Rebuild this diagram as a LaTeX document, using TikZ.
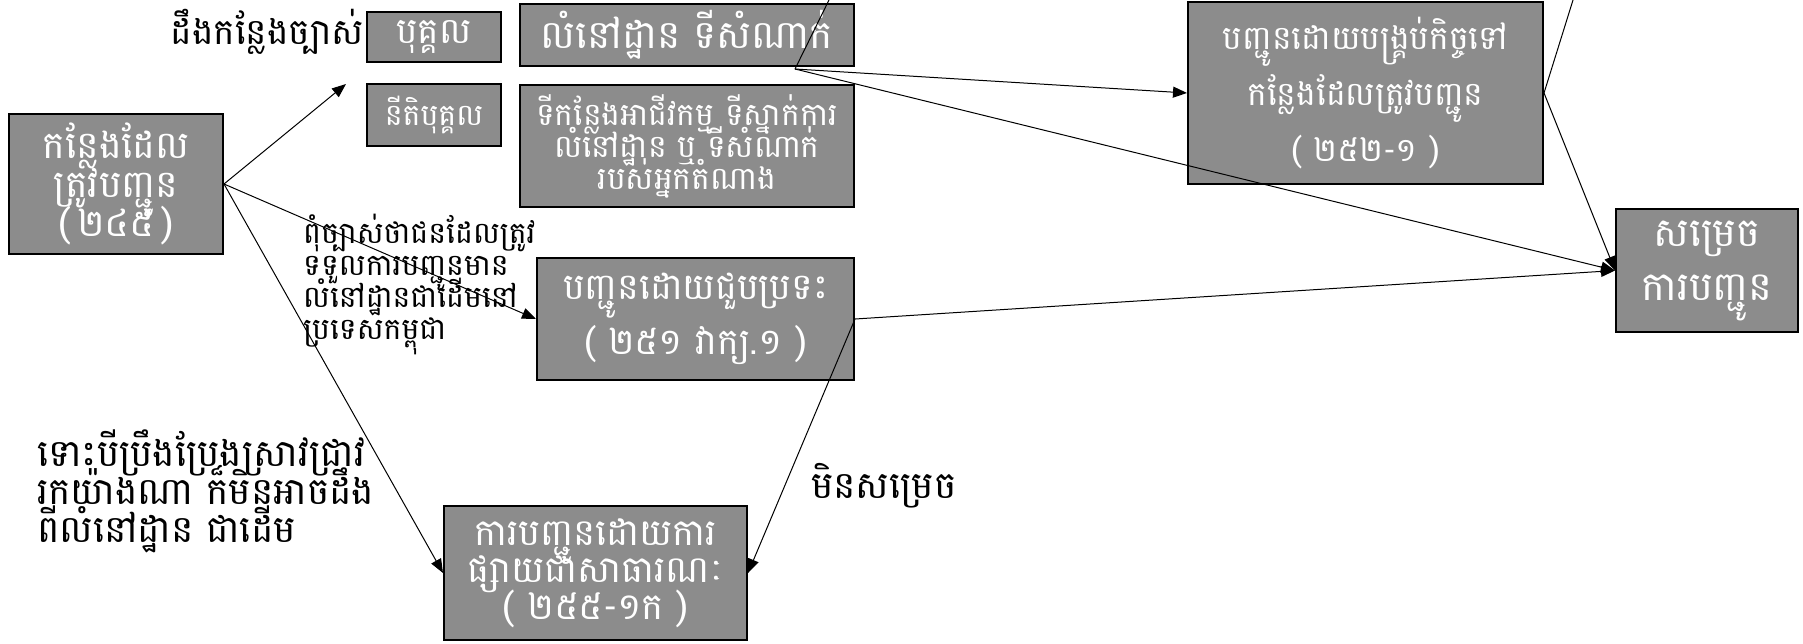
\documentclass[tikz,border=0pt]{standalone}
\usepackage{fontspec}
\newfontfamily\kh[Script=Khmer]{Battambang}
\usetikzlibrary{arrows.meta}
\definecolor{boxgray}{RGB}{140,140,140}
\newcommand{\fs}[2]{\kh\fontsize{#1}{#2}\selectfont\lineskiplimit=-1000pt\lineskip=0pt}
\begin{document}
\begin{tikzpicture}[x=1pt,y=-1pt,
  box/.style={draw=black, line width=2pt, fill=boxgray, text=white, align=center, inner sep=0pt},
  lbl/.style={text=black, inner sep=0pt},
  arr/.style={-{Triangle[length=14pt,width=11pt]}, line width=1pt},
  ln/.style={line width=1pt}]
\useasboundingbox (0,0) rectangle (1803,643);
\node[box, minimum width=214pt, minimum height=140pt, font=\fs{38}{39}] (A) at (116,184) {កន្លែងដែល\\ត្រូវបញ្ជូន\\(\,២៤៥\,)};
\node[box, minimum width=134pt, minimum height=50pt, font=\fs{36}{40}] (P) at (434,37) {បុគ្គល};
\node[box, minimum width=334pt, minimum height=62pt, font=\fs{39}{40}] (R) at (687,35) {លំនៅដ្ឋាន ទីសំណាក់};
\node[box, minimum width=134pt, minimum height=62pt, font=\fs{30}{32}] (L) at (434,115) {នីតិបុគ្គល};
\node[box, minimum width=334pt, minimum height=122pt, font=\fs{31.5}{32}] (B) at (687,146) {ទីកន្លែងអាជីវកម្ម ទីស្នាក់ការ\\លំនៅដ្ឋាន ឬ ទីសំណាក់\\របស់អ្នកតំណាង};
\node[box, minimum width=355pt, minimum height=182pt, font=\fs{33}{56}] (C) at (1365.5,93) {បញ្ជូនដោយបង្គ្រប់កិច្ចទៅ\\កន្លែងដែលត្រូវបញ្ជូន\\( ២៥២-១ )};
\node[box, minimum width=182pt, minimum height=123pt, font=\fs{40}{54}] (D) at (1707,270.5) {សម្រេច\\ការបញ្ជូន};
\node[box, minimum width=317pt, minimum height=122pt, font=\fs{36.5}{55}] (E) at (695.5,319) {បញ្ជូនដោយជួបប្រទះ\\( ២៥១ វាក្យ.១ )};
\node[box, minimum width=303pt, minimum height=134pt, font=\fs{37}{37}] (F) at (595.5,573) {ការបញ្ជូនដោយការ\\ផ្សាយជាសាធារណៈ\\( ២៥៥-១ក )};
\node[lbl, anchor=east, font=\fs{36}{40}] (k1) at (364,32) {ដឹងកន្លែងច្បាស់};
\node[lbl, anchor=north west, align=left, font=\fs{30}{32}] (k2) at (303,214) {ពុំច្បាស់ថាជនដែលត្រូវ\\ទទួលការបញ្ជូនមាន\\លំនៅដ្ឋានជាដើមនៅ\\ប្រទេសកម្ពុជា};
\node[lbl, anchor=north west, align=left, font=\fs{37.5}{38}] (k3) at (37,430) {ទោះបីប្រឹងប្រែងស្រាវជ្រាវ\\រកយ៉ាងណា ក៏មិនអាចដឹង\\ពីលំនៅដ្ឋាន ជាដើម};
\node[lbl, anchor=west, font=\fs{37.5}{40}] (k4) at (811,486) {មិនសម្រេច};
\coordinate (t1) at (346,84);
\coordinate (J) at (795,69);
\coordinate (up1) at (829,0);
\coordinate (up2) at (1573,0);
\draw[arr] (A.east) -- (t1);
\draw[arr] (A.east) -- (E.west);
\draw[arr] (A.east) -- (F.west);
\draw[ln] (J) -- (up1);
\draw[arr] (J) -- (C.west);
\draw[arr] (J) -- (D.west);
\draw[ln] (C.east) -- (up2);
\draw[arr] (C.east) -- (D.west);
\draw[arr] (E.east) -- (D.west);
\draw[arr] (E.east) -- (F.east);
\end{tikzpicture}
\end{document}
